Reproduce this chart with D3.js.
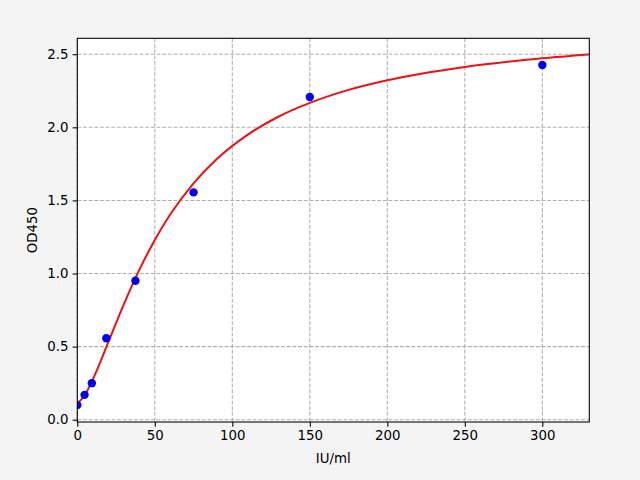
<!DOCTYPE html>
<html><head><meta charset="utf-8">
<script src="https://cdn.jsdelivr.net/npm/d3@7"></script>
<style>html,body{margin:0;padding:0;background:#f4f4f4;}svg{display:block;}</style>
</head><body>
<script>
// Measured standards
const concentrations = [0, 4.69, 9.375, 18.75, 37.5, 75, 150, 300];
const odValues = [0.10, 0.17, 0.25, 0.557, 0.951, 1.555, 2.207, 2.426];
// Fitted curve
const curveX = [0, 5, 10, 20, 30, 40, 50, 60, 75, 90, 110, 130, 150, 175, 200, 250, 300, 330];
const curveY = [0.11, 0.171, 0.276, 0.530, 0.789, 1.025, 1.230, 1.405, 1.617, 1.783, 1.950, 2.074, 2.167, 2.256, 2.322, 2.413, 2.472, 2.498];
const xTicks = [0, 50, 100, 150, 200, 250, 300];
const yTicks = [0.0, 0.5, 1.0, 1.5, 2.0, 2.5];

const W = 640, H = 480;
const L = 77.3, R = 589.3, T = 38.3, B = 422;
const svg = d3.select("body").append("svg").attr("width", W).attr("height", H)
  .style("font-family", "DejaVu Sans, sans-serif");
svg.append("rect").attr("width", W).attr("height", H).attr("fill", "#f4f4f4");
svg.append("rect").attr("x", L).attr("y", T).attr("width", R - L).attr("height", B - T).attr("fill", "#fff");

const x = d3.scaleLinear().domain([0, 330.3]).range([L, R]);
const y = d3.scaleLinear().domain([-0.0157, 2.609]).range([B, T]);

// grid
const grid = svg.append("g").attr("stroke", "#b0b0b0").attr("stroke-width", 1.07).attr("stroke-dasharray", "3.95,1.71");
grid.selectAll(".gx").data(xTicks).join("line")
  .attr("x1", d => x(d)).attr("x2", d => x(d)).attr("y1", T).attr("y2", B);
grid.selectAll(".gy").data(yTicks).join("line")
  .attr("y1", d => y(d)).attr("y2", d => y(d)).attr("x1", L).attr("x2", R);

// clip
svg.append("clipPath").attr("id", "clip").append("rect")
  .attr("x", L).attr("y", T).attr("width", R - L).attr("height", B - T);

const curveData = curveX.map((v, i) => [v, curveY[i]]);
svg.append("path").datum(curveData)
  .attr("clip-path", "url(#clip)")
  .attr("fill", "none").attr("stroke", "#ee1111").attr("stroke-width", 2)
  .attr("d", d3.line().x(d => x(d[0])).y(d => y(d[1])).curve(d3.curveMonotoneX));

svg.append("g").attr("clip-path", "url(#clip)")
  .selectAll("circle").data(concentrations.map((c, i) => [c, odValues[i]])).join("circle")
  .attr("cx", d => x(d[0])).attr("cy", d => y(d[1])).attr("r", 4.2).attr("fill", "#0000ff");

// axes
const xAxis = svg.append("g").attr("transform", `translate(0,${B})`)
  .call(d3.axisBottom(x).tickValues(xTicks).tickFormat(d3.format("d")).tickSize(4.67).tickPadding(4.2));
const yAxis = svg.append("g").attr("transform", `translate(${L},0)`)
  .call(d3.axisLeft(y).tickValues(yTicks).tickFormat(d3.format(".1f")).tickSize(4.67).tickPadding(4.2));
[xAxis, yAxis].forEach(a => {
  a.select(".domain").remove();
  a.selectAll("line").attr("stroke", "#000").attr("stroke-width", 1.07);
  a.selectAll("text").attr("fill", "#000").style("font-size", "13.33px").style("font-family", "DejaVu Sans, sans-serif");
});

// frame
svg.append("rect").attr("x", L).attr("y", T).attr("width", R - L).attr("height", B - T)
  .attr("fill", "none").attr("stroke", "#000").attr("stroke-width", 1.07);

svg.append("text").attr("x", (L + R) / 2).attr("y", 463).attr("text-anchor", "middle")
  .style("font-size", "13.33px").text("IU/ml");
svg.append("text").attr("transform", `translate(37,${(T + B) / 2}) rotate(-90)`).attr("text-anchor", "middle")
  .style("font-size", "13.33px").text("OD450");
</script>
</body></html>
